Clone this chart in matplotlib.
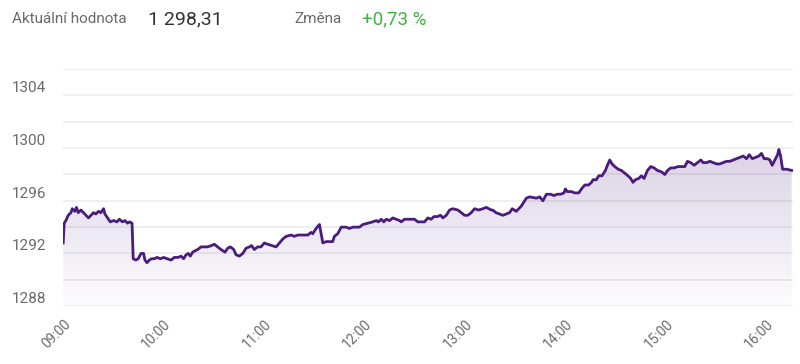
import numpy as np
import matplotlib
matplotlib.use("Agg")
import matplotlib.pyplot as plt
from matplotlib.colors import LinearSegmentedColormap

# minutes after 09:00 and index value
minutes = [
    0.0, 0.6, 1.6, 3.0, 4.6, 5.4, 7.0, 7.9, 9.0, 10.6, 12.1, 13.6, 15.1, 16.6,
    18.1, 19.5, 21.1, 22.5, 24.1, 24.9, 26.5, 28.1, 30.1, 32.1, 33.5, 35.4,
    36.9, 38.4, 39.6, 41.1, 41.8, 43.4, 44.8, 46.4, 48.0, 48.8, 50.0, 51.4,
    52.8, 54.4, 56.0, 58.0, 60.0, 62.0, 64.4, 66.3, 68.7, 70.3, 71.9, 73.3,
    74.7, 75.9, 77.3, 78.7, 80.3, 82.3, 86.2, 88.6, 90.2, 92.2, 94.2, 96.6,
    98.2, 99.8, 101.8, 103.2, 105.2, 107.2, 109.2, 111.2, 112.5, 114.1, 116.1,
    118.1, 120.1, 122.1, 124.5, 127.1, 129.1, 131.1, 133.1, 136.1, 138.0,
    140.0, 143.0, 146.0, 148.0, 149.0, 151.0, 153.0, 154.0, 155.0, 157.0,
    159.0, 160.9, 161.9, 163.9, 166.0, 168.9, 170.9, 172.9, 176.9, 178.9,
    181.9, 184.8, 186.9, 188.2, 189.9, 191.4, 192.8, 194.8, 196.8, 198.8,
    200.8, 201.8, 203.8, 206.8, 209.8, 211.7, 213.8, 215.7, 217.7, 219.7,
    221.3, 223.3, 225.3, 226.7, 228.7, 230.7, 232.6, 235.6, 237.7, 239.6,
    241.6, 243.6, 245.6, 248.0, 250.6, 252.6, 255.6, 256.4, 258.4, 262.5,
    266.5, 268.1, 270.5, 273.5, 276.5, 278.5, 282.5, 284.5, 286.4, 288.5,
    291.0, 293.0, 295.0, 297.0, 299.0, 299.8, 301.0, 303.4, 305.4, 307.8,
    309.4, 311.4, 313.7, 315.4, 316.3, 318.3, 319.7, 321.7, 323.7, 324.9,
    326.3, 327.7, 329.3, 331.3, 333.3, 335.3, 337.2, 338.8, 340.2, 341.6,
    343.6, 345.2, 346.8, 348.8, 350.8, 352.8, 354.8, 357.2, 359.2, 360.8,
    362.7, 364.7, 367.1, 369.1, 371.1, 372.7, 374.7, 376.7, 378.7, 380.7,
    382.1, 384.1, 386.1, 388.1, 390.1, 392.0, 394.0, 396.0, 398.0, 400.0,
    402.0, 404.0, 406.0, 408.0, 409.6, 411.4, 413.4, 415.3, 416.9, 418.5,
    420.5, 421.9, 423.3, 424.9, 426.5, 427.3, 428.3, 429.5, 431.9, 434.9,
]
values = [
    1292.8, 1294.3, 1294.5, 1294.9, 1295.1, 1295.4, 1295.2, 1295.5, 1295.1,
    1295.3, 1295.1, 1294.9, 1294.7, 1294.9, 1295.1, 1295.0, 1295.2, 1295.1,
    1295.4, 1295.0, 1294.7, 1294.4, 1294.5, 1294.4, 1294.6, 1294.4, 1294.5,
    1294.3, 1294.4, 1294.3, 1291.6, 1291.5, 1291.6, 1292.0, 1292.0, 1291.5,
    1291.3, 1291.5, 1291.6, 1291.6, 1291.7, 1291.6, 1291.7, 1291.6, 1291.5,
    1291.7, 1291.7, 1291.8, 1291.6, 1291.9, 1292.0, 1291.8, 1292.1, 1292.2,
    1292.3, 1292.5, 1292.5, 1292.6, 1292.7, 1292.5, 1292.3, 1292.1, 1292.4,
    1292.5, 1292.3, 1291.9, 1291.8, 1292.0, 1292.4, 1292.5, 1292.6, 1292.3,
    1292.5, 1292.5, 1292.8, 1292.7, 1292.6, 1292.5, 1292.8, 1293.1, 1293.3,
    1293.4, 1293.3, 1293.4, 1293.4, 1293.4, 1293.6, 1293.5, 1293.9, 1294.2,
    1293.5, 1292.8, 1292.9, 1292.9, 1292.9, 1293.3, 1293.5, 1294.0, 1294.0,
    1293.9, 1294.0, 1294.0, 1294.2, 1294.3, 1294.4, 1294.5, 1294.4, 1294.6,
    1294.4, 1294.6, 1294.5, 1294.7, 1294.6, 1294.5, 1294.4, 1294.6, 1294.6,
    1294.6, 1294.4, 1294.4, 1294.4, 1294.7, 1294.6, 1294.8, 1294.8, 1294.9,
    1294.7, 1294.9, 1295.3, 1295.4, 1295.3, 1295.1, 1294.9, 1294.9, 1295.1,
    1295.4, 1295.3, 1295.4, 1295.5, 1295.3, 1295.3, 1295.1, 1294.9, 1295.1,
    1295.4, 1295.2, 1295.6, 1296.2, 1296.3, 1296.2, 1296.3, 1296.0, 1296.5,
    1296.5, 1296.4, 1296.5, 1296.5, 1296.6, 1296.9, 1296.7, 1296.7, 1296.6,
    1296.6, 1296.9, 1297.2, 1297.2, 1297.4, 1297.6, 1297.6, 1297.9, 1297.9,
    1298.3, 1298.7, 1299.1, 1298.8, 1298.6, 1298.4, 1298.3, 1298.1, 1297.9,
    1297.7, 1297.4, 1297.6, 1297.7, 1297.9, 1297.7, 1298.3, 1298.6, 1298.5,
    1298.3, 1298.2, 1298.0, 1298.3, 1298.5, 1298.5, 1298.6, 1298.6, 1298.6,
    1299.0, 1298.9, 1298.7, 1298.9, 1299.1, 1298.9, 1298.9, 1299.0, 1298.9,
    1298.8, 1298.8, 1298.9, 1299.0, 1299.0, 1299.1, 1299.2, 1299.3, 1299.4,
    1299.2, 1299.5, 1299.2, 1299.3, 1299.4, 1299.6, 1299.2, 1299.2, 1299.1,
    1298.7, 1299.1, 1299.5, 1299.9, 1299.4, 1298.4, 1298.4, 1298.31,
]

hour_ticks = [0, 60, 120, 180, 240, 300, 360, 420]
hour_labels = ["09:00", "10:00", "11:00", "12:00", "13:00", "14:00", "15:00", "16:00"]
y_labels = [1288, 1292, 1296, 1300, 1304]
y_grid = [1288, 1290, 1292, 1294, 1296, 1298, 1300, 1302, 1304, 1306]

last_value = "1 298,31"
change = "+0,73 %"

plt.rcParams["font.family"] = ["Roboto", "DejaVu Sans"]

LINE = "#4a1c7c"
GREY = "#6a6a6a"

fig = plt.figure(figsize=(8, 3.64), dpi=100)
ax = fig.add_axes([0.079, 0.159, 0.912, 0.651])

x = np.array(minutes)
y = np.array(values)
ax.set_xlim(0, 435.6)
ax.set_ylim(1288, 1306)

# gradient fill under the line
cmap = LinearSegmentedColormap.from_list(
    "fade", [(0.29, 0.11, 0.49, 0.015), (0.29, 0.11, 0.49, 0.21)])
grad = np.linspace(0, 1, 256).reshape(-1, 1)
im = ax.imshow(grad, cmap=cmap, aspect="auto", origin="lower",
               extent=[0, 435.6, 1288, 1301], zorder=1)
poly = ax.fill_between(x, y, 1288, color="none", lw=0)
im.set_clip_path(poly.get_paths()[0], transform=ax.transData)

ax.plot(x, y, color=LINE, lw=2, zorder=3, solid_joinstyle="round")

for g in y_grid:
    ax.axhline(g, color="#eeeeee", lw=1.3, zorder=0)

for s in ax.spines.values():
    s.set_visible(False)
ax.set_yticks([])
ax.set_xticks(hour_ticks)
ax.set_xticklabels(hour_labels, rotation=45, ha="right",
                   rotation_mode="anchor", fontsize=10, color=GREY)
ax.tick_params(axis="x", length=0, pad=8)

# y labels sit just above their grid line, at the left edge
for v in y_labels:
    ax.annotate(str(v), xy=(12 / 800, v), xycoords=("figure fraction", "data"),
                xytext=(0, 3), textcoords="offset pixels",
                ha="left", va="baseline", fontsize=11, color=GREY)

# header
fig.text(12 / 800, 0.947, "Aktuální hodnota", fontsize=11, color=GREY, va="center")
fig.text(148 / 800, 0.947, last_value, fontsize=14, color="#333333", va="center")
fig.text(294 / 800, 0.947, "Změna", fontsize=11, color=GREY, va="center")
fig.text(362 / 800, 0.947, change, fontsize=13.5, color="#44b044", va="center")

fig.savefig("out.png", dpi=100, facecolor="white")
